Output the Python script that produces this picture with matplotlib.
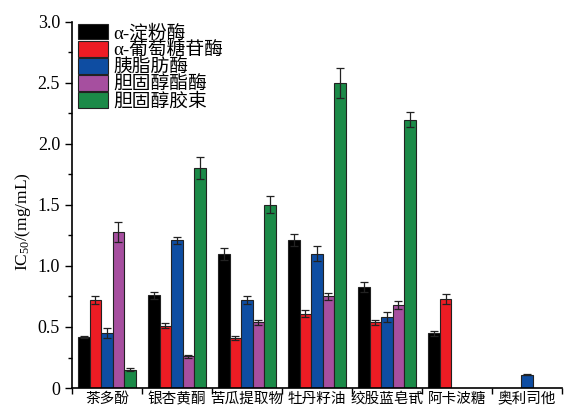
import numpy as np
import matplotlib
matplotlib.use("Agg")
import matplotlib.pyplot as plt
from matplotlib.ticker import MultipleLocator, FixedLocator

plt.rcParams['font.family'] = ['Liberation Serif', 'Noto Sans CJK SC']
plt.rcParams['mathtext.default'] = 'regular'

# Data
groups = ["茶多酚", "银杏黄酮", "苦瓜提取物", "牡丹籽油", "绞股蓝皂甙", "阿卡波糖", "奥利司他"]
series = ["α-淀粉酶", "α-葡萄糖苷酶", "胰脂肪酶", "胆固醇酯酶", "胆固醇胶束"]
colors = ["#000000", "#ED1C24", "#0E4DA2", "#A64F9F", "#1B8A48"]

amylase = [0.42, 0.76, 1.10, 1.21, 0.83, 0.45, np.nan]
glucosidase = [0.72, 0.51, 0.41, 0.61, 0.54, 0.73, np.nan]
lipase = [0.45, 1.21, 0.72, 1.10, 0.58, np.nan, 0.11]
esterase = [1.28, 0.26, 0.54, 0.75, 0.68, np.nan, np.nan]
micelle = [0.15, 1.80, 1.50, 2.50, 2.20, np.nan, np.nan]

amylase_err = [0.01, 0.03, 0.05, 0.05, 0.04, 0.02, 0]
glucosidase_err = [0.03, 0.02, 0.02, 0.03, 0.02, 0.04, 0]
lipase_err = [0.04, 0.03, 0.03, 0.06, 0.04, 0, 0.005]
esterase_err = [0.08, 0.01, 0.02, 0.03, 0.03, 0, 0]
micelle_err = [0.01, 0.09, 0.07, 0.12, 0.06, 0, 0]

values = [amylase, glucosidase, lipase, esterase, micelle]
errors = [amylase_err, glucosidase_err, lipase_err, esterase_err, micelle_err]

fig = plt.figure(figsize=(5.66, 4.17), dpi=100)
ax = fig.add_axes([0.127, 0.0695, 0.866, 0.878])

x = np.arange(len(groups)) + 0.5
width = 0.164
for i, (vals, errs) in enumerate(zip(values, errors)):
    pos = x + (i - 2) * width
    vals = np.array(vals)
    mask = ~np.isnan(vals)
    ax.bar(pos[mask], vals[mask], width, color=colors[i], edgecolor="#222222",
           linewidth=0.8, label=series[i], zorder=2)
    ax.errorbar(pos[mask], vals[mask], yerr=np.array(errs)[mask], fmt="none",
                ecolor="#222222", elinewidth=0.9, capsize=3, capthick=0.9, zorder=3)

ax.set_xlim(0, 7)
ax.set_ylim(0, 3.0)
ax.spines["top"].set_visible(False)
ax.spines["right"].set_visible(False)
for s in ["left", "bottom"]:
    ax.spines[s].set_linewidth(1.2)

ax.xaxis.set_major_locator(FixedLocator(np.arange(0, 8)))
ax.xaxis.set_minor_locator(FixedLocator(x))
ax.set_xticklabels([])
ax.set_xticklabels(groups, minor=True, family=['Noto Sans CJK SC'], fontsize=10.5)
ax.tick_params(axis="x", which="minor", length=0, pad=3)
ax.tick_params(axis="x", which="major", length=4, width=1.0, direction="out")

ax.yaxis.set_major_locator(MultipleLocator(0.5))
ax.yaxis.set_minor_locator(MultipleLocator(0.25))
ax.set_yticks([0, 0.5, 1.0, 1.5, 2.0, 2.5, 3.0])
ax.set_yticklabels(["0", "0.5", "1.0", "1.5", "2.0", "2.5", "3.0"], fontsize=13)
ax.tick_params(axis="y", which="major", length=5, width=1.0, direction="out")
ax.tick_params(axis="y", which="minor", length=3, width=1.0, direction="out")

ax.set_ylabel("IC$_{50}$/(mg/mL)", fontsize=12.5)
ax.yaxis.set_label_coords(-0.08, 0.454)

ax.legend(loc="upper left", bbox_to_anchor=(0.0, 1.01), frameon=False,
          fontsize=13.5, handlelength=1.6, handleheight=0.9, labelspacing=-0.06,
          handletextpad=0.32, borderaxespad=0.2, borderpad=0.1)

fig.savefig("out.png", dpi=100)
